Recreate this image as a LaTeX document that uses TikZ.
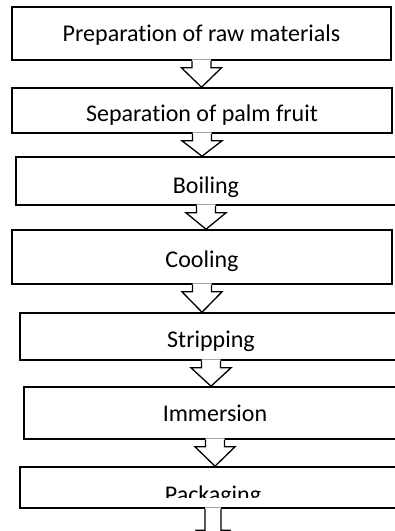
\documentclass[tikz,border=0pt]{standalone}
\usepackage{fontspec}
\setmainfont{Carlito}[Ligatures={NoCommon}]
\usetikzlibrary{calc}

\tikzset{
  stage/.style={draw=black, line width=1.6pt, fill=white, inner sep=0pt,
                minimum width=380pt},
  lbl/.style={anchor=base, inner sep=0pt, font=\fontsize{24}{28}\selectfont},
  hollow/.style={draw=black, line width=1.3pt, line join=miter},
}

% Hollow block arrow from the bottom of #2 down to the top of #3
\newcommand\flowarrow[3][7]{%
  \fill[white] ($(#2.south)+(-9.5,-1.5)$) -- ($(#2.south)+(-9.5,#1)$)
     -- ($(#2.south)+(-20,#1)$) -- (#2.south |- #3.north)
     -- ($(#2.south)+(20,#1)$) -- ($(#2.south)+(9.5,#1)$)
     -- ($(#2.south)+(9.5,-1.5)$) -- cycle;
  \draw[hollow] ($(#2.south)+(-9.5,0)$) -- ($(#2.south)+(-9.5,#1)$)
     -- ($(#2.south)+(-20,#1)$) -- (#2.south |- #3.north)
     -- ($(#2.south)+(20,#1)$) -- ($(#2.south)+(9.5,#1)$)
     -- ($(#2.south)+(9.5,0)$);
}

\begin{document}
\begin{tikzpicture}[x=1pt, y=-1pt]
  \useasboundingbox (0,0) rectangle (395,531);
  \clip (0,0) rectangle (395,531);

  % process stages
  \node[stage, minimum width=379pt, minimum height=53pt] (s1) at (201.5,33.5) {};
  \node[stage, minimum height=45pt] (s2) at (202,110.5) {};
  \node[stage, minimum height=48pt] (s3) at (206,181) {};
  \node[stage, minimum height=54pt] (s4) at (202,257) {};
  \node[stage, minimum width=382pt, minimum height=47pt] (s5) at (211,336.5) {};
  \node[stage, minimum width=382pt, minimum height=52pt] (s6) at (215,413) {};
  \node[stage, minimum width=386pt, minimum height=41pt] (s7) at (213,487.5) {};

  % stage labels
  \node[lbl] (t1) at (201.5,41) {Preparation of raw materials};
  \node[lbl] (t2) at (202,121) {Separation of palm fruit};
  \node[lbl] (t3) at (206,193) {Boiling};
  \node[lbl] (t4) at (202,267) {Cooling};
  \node[lbl] (t5) at (211,347) {Stripping};
  \node[lbl] (t6) at (215,421) {Immersion};
  \begin{scope}
    \clip (0,467) rectangle (395,497);
    \node[lbl] (t7) at (213,502) {Packaging};
  \end{scope}

  % arrows between stages
  \flowarrow{s1}{s2}
  \flowarrow{s2}{s3}
  \flowarrow{s3}{s4}
  \flowarrow{s4}{s5}
  \flowarrow{s5}{s6}
  \flowarrow{s6}{s7}

  % outgoing arrow below the last stage
  \coordinate (out) at (212,552);
  \fill[white] ($(s7.south)+(-8,-1.5)$) -- ($(s7.south)+(-8,21.5)$)
     -- ($(s7.south)+(-17,21.5)$) -- (out) -- ($(s7.south)+(17,21.5)$)
     -- ($(s7.south)+(8,21.5)$) -- ($(s7.south)+(8,-1.5)$) -- cycle;
  \draw[hollow] ($(s7.south)+(-8,0)$) -- ($(s7.south)+(-8,21.5)$)
     -- ($(s7.south)+(-17,21.5)$) -- (out) -- ($(s7.south)+(17,21.5)$)
     -- ($(s7.south)+(8,21.5)$) -- ($(s7.south)+(8,0)$);
\end{tikzpicture}
\end{document}
